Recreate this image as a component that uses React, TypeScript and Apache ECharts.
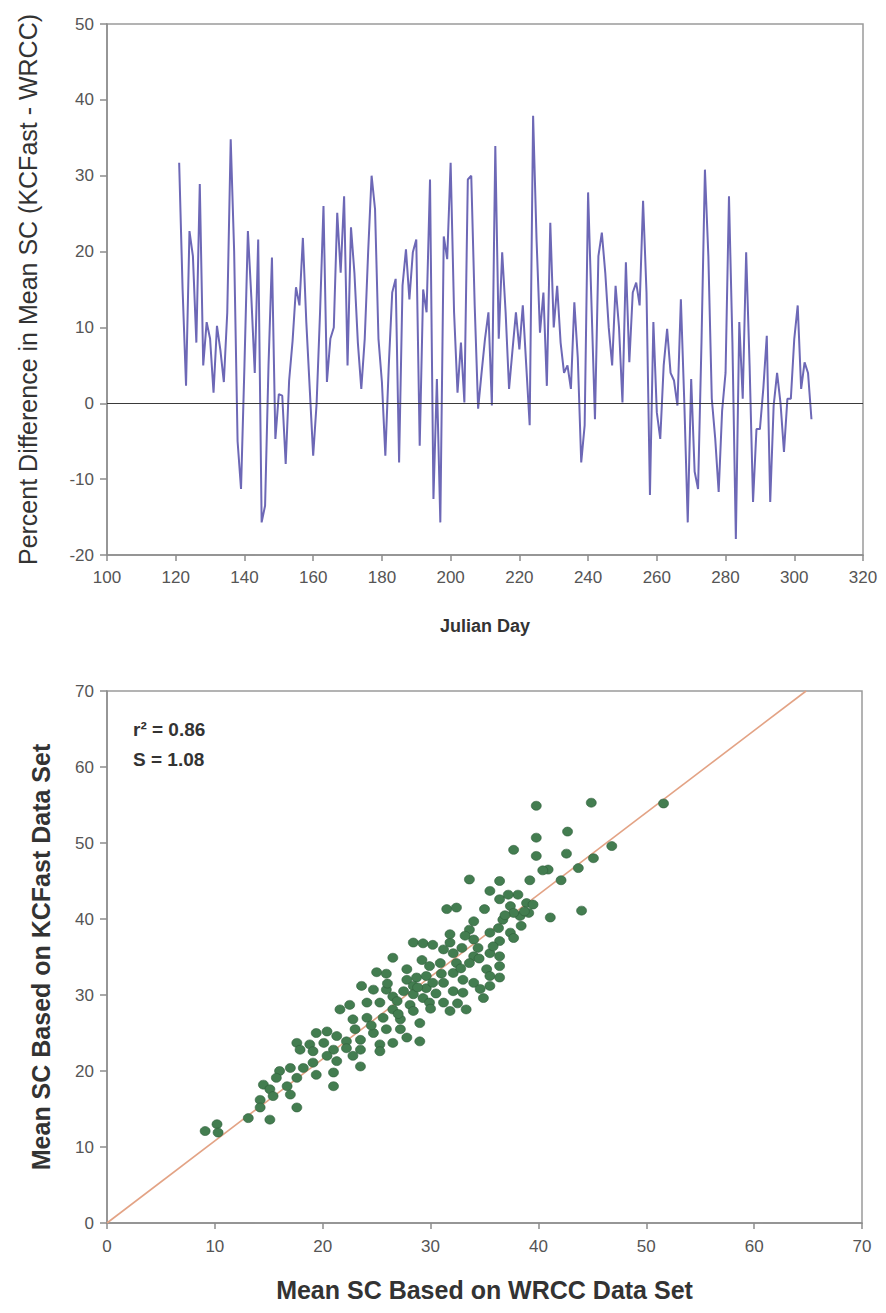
import React, { useEffect, useRef } from "react";
import * as echarts from "echarts";

// ---------- Top chart: daily percent difference (KCFast - WRCC) ----------
const START_DAY = 121;
const pctDiff: number[] = [
  31.7, 15, 2.3, 22.7, 19.4, 8, 28.9, 5, 10.7, 8.5,
  1.4, 10.2, 7, 2.8, 12, 34.8, 20, -5, -11.3, 5,
  22.7, 14, 4, 21.6, -15.7, -13.5, 5, 19.2, -4.7, 1.2,
  1, -8, 3, 8.2, 15.3, 12.9, 21.8, 10.7, 1.9, -6.9,
  0, 12, 26, 2.8, 8.5, 10, 25.1, 17.2, 27.3, 5,
  23.2, 17.2, 8, 1.9, 8.5, 20, 30, 25.6, 8.5, 2.8,
  -6.9, 5, 14.6, 16.4, -7.8, 15.5, 20.3, 13.7, 19.9, 21.6,
  -5.6, 15, 12, 29.5, -12.6, 3.2, -15.7, 22, 19, 31.7,
  12, 1.4, 8, 0.1, 29.5, 30, 12.9, -0.7, 4, 8.5,
  12, -0.3, 33.9, 8.5, 19.9, 12, 1.9, 7, 12, 7.1,
  12.9, 5, -2.9, 37.9, 21.6, 9.3, 14.6, 2.3, 23.8, 10,
  15.5, 8, 4, 5, 1.9, 13.3, 6, -7.8, -2.9, 27.8,
  12.9, -2.1, 19.4, 22.5, 17.2, 10, 5, 15.5, 10, 0.1,
  18.6, 5.4, 14.6, 15.9, 12.9, 26.7, 14.6, -12.1, 10.7, -1.2,
  -4.7, 5, 9.8, 4, 3, -0.3, 13.7, 0.1, -15.7, 3.2,
  -9, -11.3, 8, 30.8, 19.4, 0.6, -4.7, -11.7, -1, 4,
  27.3, 8, -17.9, 10.7, 0.6, 19.9, 5, -13, -3.4, -3.4,
  2, 8.9, -13, -0.3, 4, 0, -6.4, 0.6, 0.6, 8.5,
  12.9, 1.9, 5.4, 4, -2.1,
];
const julianDays: number[] = pctDiff.map((_, i) => START_DAY + i);

const topXTicks = { min: 100, max: 320, interval: 20 };
const topYTicks = { min: -20, max: 50, interval: 10 };

// ---------- Bottom chart: mean SC comparison ----------
const wrccMean: number[] = [
  39.8, 44.9, 42.7, 39.8, 37.7, 39.8, 42.6, 46.8, 45.1, 43.7,
  40.9, 40.4, 42.1, 39.2, 33.6, 36.4, 35.5, 38.1, 36.4, 37.4,
  38.9, 39.5, 31.5, 32.4, 35.0, 39.1, 44.0, 41.1, 38.3, 36.7,
  34.0, 37.7, 38.4, 36.3, 33.6, 37.4, 35.5, 37.7, 28.4, 29.3,
  30.2, 31.8, 34.0, 36.4, 32.9, 34.4, 31.2, 32.1, 35.5, 34.0,
  26.5, 36.4, 25.0, 25.9, 27.8, 29.9, 30.9, 32.4, 33.6, 35.2,
  36.4, 27.8, 28.7, 29.6, 32.1, 35.5, 36.4, 31.2, 33.0, 34.0,
  23.6, 24.7, 25.9, 28.4, 29.6, 30.2, 35.5, 26.5, 28.4, 29.3,
  32.1, 33.0, 34.9, 22.5, 24.1, 25.3, 26.9, 28.1, 29.9, 31.2,
  21.6, 26.5, 28.4, 31.8, 33.3, 22.8, 24.1, 25.6, 27.2, 29.0,
  19.4, 20.4, 21.3, 17.6, 18.8, 20.1, 22.2, 23.5, 24.7, 25.9,
  27.2, 27.8, 29.0, 25.3, 26.5, 17.9, 19.1, 21.0, 22.2, 23.5,
  25.3, 20.4, 22.8, 16.0, 17.0, 18.2, 19.1, 21.3, 23.5, 15.7,
  17.6, 19.4, 21.0, 14.5, 15.1, 16.7, 21.0, 14.2, 15.4, 17.6,
  14.2, 13.1, 15.1, 17.0, 9.1, 10.2, 10.3, 51.6, 27.5, 28.8,
  30.5, 31.0, 32.8, 34.5, 35.8, 33.2, 36.9, 38.7, 30.0, 27.0,
  24.5, 23.0, 26.0, 29.2, 31.8, 37.2, 34.6, 32.5,
];
const kcfastMean: number[] = [
  54.9, 55.3, 51.5, 50.7, 49.1, 48.3, 48.6, 49.6, 48.0, 46.7,
  46.5, 46.4, 45.1, 45.1, 45.2, 45.0, 43.7, 43.2, 42.6, 41.7,
  42.1, 41.9, 41.3, 41.5, 41.3, 40.8, 41.1, 40.2, 40.4, 39.9,
  39.7, 40.8, 39.1, 38.8, 38.6, 38.2, 38.2, 37.5, 36.9, 36.8,
  36.6, 36.9, 37.3, 37.1, 36.2, 36.2, 36.0, 35.5, 35.5, 35.1,
  34.9, 35.1, 33.0, 32.8, 33.4, 33.8, 34.2, 34.2, 34.2, 33.4,
  33.8, 32.0, 32.3, 32.5, 32.9, 32.5, 32.3, 31.6, 32.0, 31.6,
  31.2, 30.7, 30.7, 31.2, 30.9, 31.6, 31.2, 29.8, 30.1, 29.6,
  30.5, 30.3, 29.6, 28.7, 29.0, 29.0, 29.2, 28.7, 29.0, 29.0,
  28.1, 28.1, 27.9, 27.9, 28.1, 26.8, 27.0, 27.0, 26.8, 26.3,
  25.0, 25.2, 24.6, 23.7, 23.5, 23.7, 23.9, 24.1, 25.0, 25.5,
  25.5, 24.4, 23.9, 23.5, 23.7, 22.8, 22.6, 22.8, 23.0, 22.8,
  22.6, 22.0, 22.0, 20.0, 20.4, 20.4, 21.1, 21.3, 20.6, 19.1,
  19.1, 19.5, 19.8, 18.2, 17.6, 18.0, 18.0, 16.2, 16.7, 15.2,
  15.2, 13.8, 13.6, 16.9, 12.1, 13.0, 11.9, 55.2, 30.5, 31.0,
  30.2, 32.8, 33.5, 34.8, 36.4, 37.8, 40.5, 41.0, 28.2, 27.5,
  26.0, 25.5, 31.5, 34.6, 38.0, 43.2, 30.8, 28.9,
];
const fitSlope = 1.08;
const rSquared = 0.86;
const bottomTicks = { min: 0, max: 70, interval: 10 };

const FONT = "'Liberation Sans', Arial, Helvetica, sans-serif";

export default function App() {
  const ref = useRef<HTMLDivElement>(null);

  useEffect(() => {
    if (!ref.current) return;
    const chart = echarts.init(ref.current, null, { renderer: "svg" });

    const axisLineStyle = { color: "#8c8c8c", width: 1.5 };
    const labelStyle = { color: "#555", fontSize: 17, fontFamily: FONT };

    const lineData = julianDays.map((d, i) => [d, pctDiff[i]]);
    const scatterData = wrccMean.map((x, i) => [x, kcfastMean[i]]);
    const fitEnd = bottomTicks.max / fitSlope;

    chart.setOption({
      animation: false,
      backgroundColor: "#ffffff",
      textStyle: { fontFamily: FONT },
      grid: [
        {
          left: 107, top: 24, width: 756, height: 531,
          show: true, borderColor: "#9a9a9a", borderWidth: 1.5, backgroundColor: "#fff",
        },
        {
          left: 107, top: 691, width: 755, height: 532,
          show: true, borderColor: "#9a9a9a", borderWidth: 1.5, backgroundColor: "#fff",
        },
      ],
      xAxis: [
        {
          type: "value", gridIndex: 0,
          min: topXTicks.min, max: topXTicks.max, interval: topXTicks.interval,
          name: "Julian Day", nameLocation: "middle", nameGap: 62,
          nameTextStyle: { color: "#333", fontSize: 18, fontWeight: "bold", fontFamily: FONT },
          axisLine: { onZero: false, lineStyle: axisLineStyle },
          axisTick: { show: true, inside: false, length: 6, lineStyle: axisLineStyle },
          axisLabel: { ...labelStyle, margin: 14 },
          splitLine: { show: false },
        },
        {
          type: "value", gridIndex: 1,
          min: bottomTicks.min, max: bottomTicks.max, interval: bottomTicks.interval,
          name: "Mean SC Based on WRCC Data Set", nameLocation: "middle", nameGap: 54,
          nameTextStyle: { color: "#333", fontSize: 25, fontWeight: "bold", fontFamily: FONT },
          axisLine: { onZero: false, lineStyle: axisLineStyle },
          axisTick: { show: true, inside: false, length: 6, lineStyle: axisLineStyle },
          axisLabel: { ...labelStyle, margin: 15 },
          splitLine: { show: false },
        },
      ],
      yAxis: [
        {
          type: "value", gridIndex: 0,
          min: topYTicks.min, max: topYTicks.max, interval: topYTicks.interval,
          name: "Percent Difference in Mean SC (KCFast - WRCC)", nameLocation: "middle", nameGap: 67,
          nameTextStyle: { color: "#333", fontSize: 25, fontFamily: FONT },
          axisLine: { onZero: false, lineStyle: axisLineStyle },
          axisTick: { show: true, inside: false, length: 7, lineStyle: axisLineStyle },
          axisLabel: { ...labelStyle, margin: 13 },
          splitLine: { show: false },
        },
        {
          type: "value", gridIndex: 1,
          min: bottomTicks.min, max: bottomTicks.max, interval: bottomTicks.interval,
          name: "Mean SC Based on KCFast Data Set", nameLocation: "middle", nameGap: 54,
          nameTextStyle: { color: "#333", fontSize: 25, fontWeight: "bold", fontFamily: FONT },
          axisLine: { onZero: false, lineStyle: axisLineStyle },
          axisTick: { show: true, inside: false, length: 7, lineStyle: axisLineStyle },
          axisLabel: { ...labelStyle, margin: 13 },
          splitLine: { show: false },
        },
      ],
      series: [
        {
          type: "line", xAxisIndex: 0, yAxisIndex: 0,
          data: lineData, showSymbol: false, symbol: "none",
          lineStyle: { color: "#6d68b6", width: 2 },
          markLine: {
            silent: true, symbol: "none", label: { show: false },
            lineStyle: { color: "#3a3a3a", width: 1.2, type: "solid" },
            data: [{ yAxis: 0 }],
          },
          z: 3,
        },
        {
          type: "line", xAxisIndex: 1, yAxisIndex: 1,
          data: [[0, 0], [fitEnd, bottomTicks.max]],
          showSymbol: false, symbol: "none",
          lineStyle: { color: "#e3a385", width: 1.6 },
          z: 2,
        },
        {
          type: "scatter", xAxisIndex: 1, yAxisIndex: 1,
          data: scatterData, symbol: "circle", symbolSize: [10, 9],
          itemStyle: { color: "#437d50", borderColor: "#2f5e3a", borderWidth: 0.6, opacity: 1 },
          z: 3,
        },
      ],
      graphic: [
        {
          type: "text", left: 133, top: 720,
          style: { text: `r² = ${rSquared.toFixed(2)}`, fill: "#333", font: `bold 19px ${FONT}` },
        },
        {
          type: "text", left: 133, top: 750,
          style: { text: `S = ${fitSlope.toFixed(2)}`, fill: "#333", font: `bold 19px ${FONT}` },
        },
      ],
    });

    return () => chart.dispose();
  }, []);

  return (
    <div
      ref={ref}
      style={{ position: "absolute", left: 0, top: 0, width: 886, height: 1313, background: "#fff" }}
    />
  );
}
